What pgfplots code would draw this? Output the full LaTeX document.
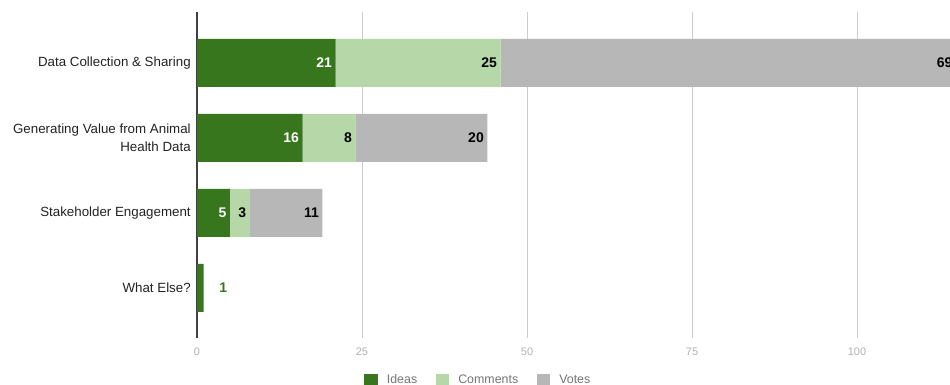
\documentclass[border=0pt]{standalone}
\usepackage{fontspec}
\setmainfont{Liberation Sans}
\usepackage{pgfplots}
\usepackage{pgfplotstable}
\pgfplotsset{compat=1.18}
\definecolor{ideasgreen}{HTML}{38761D}
\definecolor{commgreen}{HTML}{B6D7A8}
\definecolor{votegray}{HTML}{B7B7B7}
\definecolor{gridgray}{HTML}{CCCCCC}
\definecolor{ticklab}{HTML}{B0B0B0}
\definecolor{labdark}{HTML}{222222}
\definecolor{leggray}{HTML}{757575}
\def\metaone{1}
\newcommand\idealabel{\edef\tmpmeta{\pgfplotspointmeta}\ifx\tmpmeta\metaone
  \makebox[0pt][l]{\hspace{15pt}\textcolor{ideasgreen}{\pgfplotspointmeta}}\else
  \textcolor{white}{\pgfplotspointmeta}\fi}

\pgfplotstableread{
y x lab
0 21 21
1 16 16
2 5 5
3 1 1
}\ideastab
\pgfplotstableread{
y x lab
0 25 25
1 8 8
2 3 3
}\commtab
\pgfplotstableread{
y x lab
0 69 69
1 20 20
2 11 11
}\votetab

\begin{document}
\begin{tikzpicture}
\begin{axis}[
  at={(147.75pt,35.25pt)}, anchor=south west,
  scale only axis, width=574.2pt, height=244.5pt,
  xbar stacked, bar width=36pt,
  xmin=0, xmax=116, ymin=-0.68, ymax=3.667, y dir=reverse,
  axis lines=left, axis line style={-},
  x axis line style={draw=none},
  y axis line style={draw=black!75, line width=0.9pt},
  xtick={0,25,50,75,100},
  ytick={0,1,2,3},
  yticklabels={Data Collection \& Sharing,{Generating Value from Animal\\Health Data},Stakeholder Engagement,What Else?},
  major tick length=0pt,
  xmajorgrids, major grid style={gridgray, line width=0.6pt},
  /pgf/number format/assume math mode=true,
  xticklabel style={font=\fontsize{8.2}{10}\selectfont, text=ticklab, inner sep=0pt, yshift=-7pt},
  yticklabel style={font=\fontsize{10}{13.5}\selectfont, text=labdark, align=right, inner sep=0pt, xshift=-4.5pt},
  point meta=explicit symbolic,
  legend columns=3,
  legend style={draw=none, at={(0.368,-0.129)}, anchor=center, font=\fontsize{9.3}{11}\selectfont, text=leggray,
    /tikz/every odd column/.append style={column sep=5pt},
    /tikz/every even column/.append style={column sep=12pt}},
  legend image code/.code={\fill[#1] (0pt,-4.9pt) rectangle (9.8pt,4.9pt);},
]
\addplot[fill=ideasgreen, draw=none,
  nodes near coords={\idealabel},
  visualization depends on={\thisrow{x}*2.475 \as \myhalf},
  every node near coord/.append style={font=\bfseries\fontsize{10.5}{12}\selectfont, inner sep=0pt, anchor=east, xshift={\myhalf*1pt-2.5pt}}]
  table[x=x, y=y, meta=lab] {\ideastab};
\addlegendentry{Ideas}
\addplot[fill=commgreen, draw=none,
  nodes near coords,
  visualization depends on={\thisrow{x}*2.475 \as \myhalf},
  every node near coord/.append style={font=\bfseries\fontsize{10.5}{12}\selectfont, inner sep=0pt, anchor=east, text=black, xshift={\myhalf*1pt-2.5pt}}]
  table[x=x, y=y, meta=lab] {\commtab};
\addlegendentry{Comments}
\addplot[fill=votegray, draw=none,
  nodes near coords,
  visualization depends on={\thisrow{x}*2.475 \as \myhalf},
  every node near coord/.append style={font=\bfseries\fontsize{10.5}{12}\selectfont, inner sep=0pt, anchor=east, text=black, xshift={\myhalf*1pt-2.5pt}}]
  table[x=x, y=y, meta=lab] {\votetab};
\addlegendentry{Votes}
\end{axis}
\pgfresetboundingbox
\path[use as bounding box] (0,0) rectangle (712.5pt,288.75pt);
\end{tikzpicture}
\end{document}
